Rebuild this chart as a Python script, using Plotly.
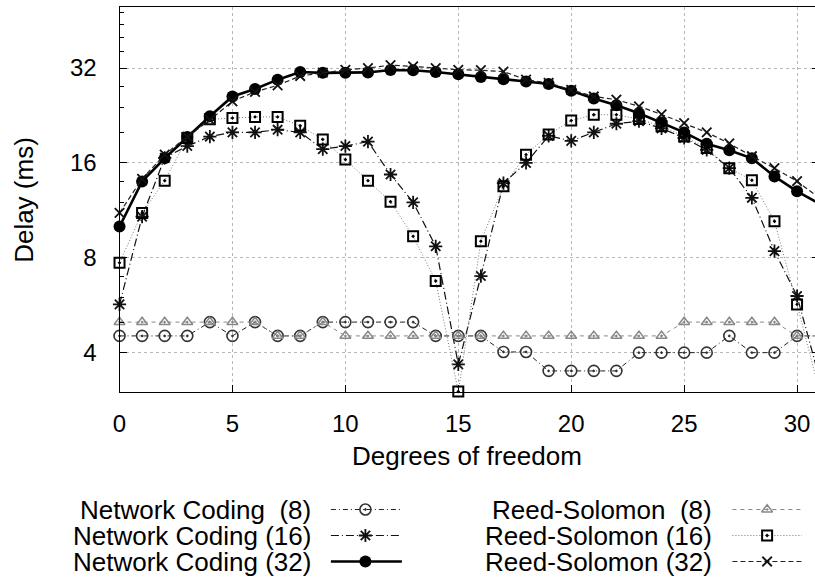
import plotly.graph_objects as go

# Degrees of freedom (x) and measured delay in ms for each coding scheme / field size
dof = list(range(32))

nc_8 = [4.52, 4.52, 4.52, 4.52, 5.0, 4.52, 5.0, 4.52, 4.52, 5.0, 5.0, 5.0, 5.0, 5.0, 4.52, 4.52,
        4.52, 4.02, 4.02, 3.5, 3.5, 3.5, 3.5, 4.0, 4.0, 4.0, 4.0, 4.52, 4.0, 4.0, 4.52, 4.52]
nc_16 = [5.69, 10.8, 16.6, 18.1, 19.4, 20.0, 20.0, 20.4, 20.0, 17.7, 18.1, 18.7, 14.7, 12.0, 8.7, 3.67,
         7.0, 13.8, 16.0, 19.5, 18.8, 20.0, 21.3, 21.7, 20.6, 19.2, 17.6, 15.4, 12.4, 8.4, 6.05, 3.3]
nc_32 = [10.05, 13.98, 16.55, 19.35, 22.5, 26.0, 27.45, 29.4, 31.1, 30.9, 30.95, 31.0, 31.55, 31.5, 31.1, 30.6,
         30.0, 29.5, 29.0, 28.5, 27.1, 25.6, 24.4, 23.0, 21.5, 20.0, 18.4, 17.55, 16.55, 14.5, 13.0, 11.87]
rs_8 = [5.0, 5.0, 5.0, 5.0, 5.0, 5.0, 5.0, 4.52, 4.52, 5.0, 4.52, 4.52, 4.52, 4.52, 4.52, 4.52,
        4.52, 4.52, 4.52, 4.52, 4.52, 4.52, 4.52, 4.52, 4.52, 5.0, 5.0, 5.0, 5.0, 5.0, 4.52, 4.52]
rs_16 = [7.71, 11.1, 14.05, 19.2, 22.0, 22.2, 22.4, 22.4, 21.0, 19.0, 16.4, 14.05, 12.05, 9.36, 6.75, 3.01,
         9.03, 13.5, 17.0, 19.7, 21.8, 22.75, 22.75, 22.05, 20.9, 19.4, 17.85, 15.4, 14.1, 10.45, 5.69, 3.0]
rs_32 = [11.1, 14.25, 17.0, 19.4, 21.9, 25.1, 26.9, 28.2, 30.2, 30.95, 31.6, 32.0, 32.7, 32.4, 32.0, 31.6,
         31.5, 31.2, 29.4, 28.7, 27.3, 26.0, 25.4, 24.2, 22.8, 21.4, 20.0, 18.45, 16.8, 15.4, 14.0, 12.35]

y_ticks = [4, 8, 16, 32]
y_minor = [3, 5, 6, 7, 10, 12, 14, 20, 24, 28, 36, 40, 44, 48]
x_ticks = [0, 5, 10, 15, 20, 25, 30]

names = ["Network Coding\u00a0\u00a0(8)", "Network Coding (16)", "Network Coding (32)",
         "Reed-Solomon\u00a0\u00a0(8)", "Reed-Solomon (16)", "Reed-Solomon (32)"]
series = [nc_8, nc_16, nc_32, rs_8, rs_16, rs_32]

FONT = "Liberation Sans, Arial, Helvetica, sans-serif"
W, H = 815, 579
PLOT_L, PLOT_T, PLOT_B = 113.5, 7.0, 392.0
PX_PER_DOF = 22.78

styles = [
    dict(line=dict(color="#222", width=1, dash="5px,3px,1px,3px"),
         marker=dict(symbol="circle-open-dot", size=11, color="#333", line=dict(width=1.6, color="#333"))),
    dict(line=dict(color="#111", width=1.2, dash="8px,3px,1px,3px"),
         marker=dict(symbol="asterisk-open", size=11, color="#111", line=dict(width=1.8, color="#111"))),
    dict(line=dict(color="#000", width=2.6),
         marker=dict(symbol="circle", size=12, color="#000", line=dict(width=0))),
    dict(line=dict(color="#8a8a8a", width=1, dash="4px,4px"),
         marker=dict(symbol="triangle-up-open-dot", size=9.5, color="#888", line=dict(width=1.5, color="#888"))),
    dict(line=dict(color="#777", width=1, dash="1px,2px"),
         marker=dict(symbol="square-open-dot", size=10, color="#000", line=dict(width=2, color="#000"))),
    dict(line=dict(color="#222", width=1.2, dash="5px,3px"),
         marker=dict(symbol="x-thin-open", size=9.5, color="#111", line=dict(width=1.8, color="#111"))),
]

fig = go.Figure()

for name, ys, st in zip(names, series, styles):
    fig.add_trace(go.Scatter(x=dof, y=ys, mode="lines+markers", name=name,
                             line=st["line"], marker=st["marker"],
                             cliponaxis=False, showlegend=False,
                             xaxis="x", yaxis="y"))

# Empty trace that carries the mirrored tick marks on the right-hand side
fig.add_trace(go.Scatter(x=[None], y=[None], mode="markers", showlegend=False,
                         hoverinfo="skip", xaxis="x", yaxis="y3"))

# Key drawn below the plot: text on the left, sample line with a marker on the right
rows_y = [509.5, 535.5, 561.5]
col_text_right = [308.3, 713.3]
col_sample = [(326.7, 361.5, 398.3), (731.7, 766.7, 801.7)]
annotations = []
for k, (name, st) in enumerate(zip(names, styles)):
    col, row = divmod(k, 3)
    yk = rows_y[row]
    x0, xc, x1 = col_sample[col]
    lw = dict(st["line"])
    lw["width"] = min(lw["width"], 2.4)
    fig.add_trace(go.Scatter(x=[x0, x1], y=[yk, yk], mode="lines", line=lw,
                             showlegend=False, hoverinfo="skip", xaxis="x2", yaxis="y2"))
    fig.add_trace(go.Scatter(x=[xc], y=[yk], mode="markers", marker=st["marker"],
                             showlegend=False, hoverinfo="skip", xaxis="x2", yaxis="y2"))
    annotations.append(dict(x=col_text_right[col], y=yk, xref="x2", yref="y2", text=name,
                            showarrow=False, xanchor="right", yanchor="middle",
                            font=dict(family=FONT, size=26, color="#000")))

# Axis titles
annotations.append(dict(x=(PLOT_L + W) / 2 / W, y=1 - 456 / H, xref="paper", yref="paper",
                        text="Degrees of freedom", showarrow=False, xanchor="center", yanchor="middle",
                        font=dict(family=FONT, size=26, color="#000")))
annotations.append(dict(x=17.0 / W, y=1 - 200 / H, xref="paper", yref="paper",
                        text="Delay (ms)", showarrow=False, textangle=-90,
                        xanchor="center", yanchor="middle",
                        font=dict(family=FONT, size=26, color="#000")))

x_max = (W - PLOT_L) / PX_PER_DOF
y_range = [0.47712125, 1.69897]  # log10 of 3 and 50

fig.update_layout(
    width=W, height=H,
    margin=dict(l=0, r=0, t=0, b=0),
    paper_bgcolor="white", plot_bgcolor="rgba(0,0,0,0)",
    font=dict(family=FONT, size=24, color="#000"),
    showlegend=False,
    annotations=annotations,
    xaxis=dict(domain=[PLOT_L / W, 1], range=[0, x_max], tickvals=x_ticks,
               ticks="inside", ticklen=7, tickwidth=1, tickcolor="#000",
               showline=True, linecolor="#000", linewidth=1.2, mirror=True,
               showgrid=True, gridcolor="#b8b8b8", griddash="dot", gridwidth=1,
               zeroline=False, tickfont=dict(family=FONT, size=24, color="#000"),
               ticklabelstandoff=10, anchor="y"),
    yaxis=dict(domain=[1 - PLOT_B / H, 1 - PLOT_T / H], type="log",
               range=y_range, tickvals=y_ticks, ticktext=[str(v) for v in y_ticks],
               ticks="inside", ticklen=7, tickwidth=1, tickcolor="#000",
               minor=dict(tickvals=y_minor, ticks="inside", ticklen=4, tickcolor="#000", showgrid=False),
               showline=True, linecolor="#000", linewidth=1.2,
               showgrid=True, gridcolor="#b8b8b8", griddash="dot", gridwidth=1,
               zeroline=False, tickfont=dict(family=FONT, size=24, color="#000"),
               ticklabelstandoff=17, anchor="x"),
    yaxis3=dict(overlaying="y", side="right", anchor="x", type="log", range=y_range,
                tickvals=y_ticks, ticks="inside", ticklen=3, tickwidth=1, tickcolor="#000",
                showticklabels=False, showgrid=False, showline=False, zeroline=False),
    xaxis2=dict(domain=[0, 1], range=[0, W], visible=False, anchor="y2", fixedrange=True),
    yaxis2=dict(domain=[0, 90 / H], range=[H, H - 90], visible=False, anchor="x2", fixedrange=True),
)

fig.write_html("out.html")
